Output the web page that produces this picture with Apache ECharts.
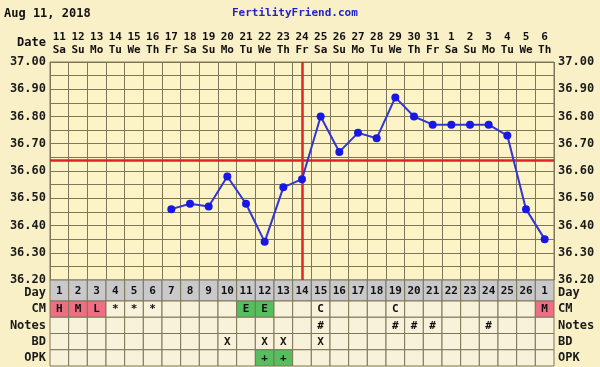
<!DOCTYPE html>
<html>
<head>
<meta charset="utf-8">
<script src="https://cdn.jsdelivr.net/npm/echarts@6/dist/echarts.min.js"></script>
<style>html,body{margin:0;padding:0;background:#FAF0C8;}#chart{width:600px;height:367px;}</style>
</head>
<body>
<div id="chart"></div>
<script>
const dates = ['11','12','13','14','15','16','17','18','19','20','21','22','23','24','25','26','27','28','29','30','31','1','2','3','4','5','6'];
const weekdays = ['Sa','Su','Mo','Tu','We','Th','Fr','Sa','Su','Mo','Tu','We','Th','Fr','Sa','Su','Mo','Tu','We','Th','Fr','Sa','Su','Mo','Tu','We','Th'];
const cycleDays = ['1','2','3','4','5','6','7','8','9','10','11','12','13','14','15','16','17','18','19','20','21','22','23','24','25','26','1'];
const temps = [null,null,null,null,null,null,36.46,36.48,36.47,36.58,36.48,36.34,36.54,36.57,36.80,36.67,36.74,36.72,36.87,36.80,36.77,36.77,36.77,36.77,36.73,36.46,36.35];
const coverline = 36.64;
const ovulationDayIndex = 13;
const rowNames = ['CM','Notes','BD','OPK'];
const cmRow    = ['H','M','L','*','*','*','','','','','E','E','','','C','','','','C','','','','','','','','M'];
const notesRow = ['','','','','','','','','','','','','','','#','','','','#','#','#','','','#','','',''];
const bdRow    = ['','','','','','','','','','X','','X','X','','X','','','','','','','','','','','',''];
const opkRow   = ['','','','','','','','','','','','+','+','','','','','','','','','','','','','',''];
const yMin = 36.2, yMax = 37.0, yStep = 0.1;

const FONT = '"DejaVu Sans Mono", "Liberation Mono", monospace';
const GRIDC = '#7E7658';
const cellFill = { 'H': '#EE6F84', 'M': '#EE6F84', 'L': '#EE6F84', 'E': '#55BE5E', '+': '#55BE5E' };

const obsRows = [cmRow, notesRow, bdRow, opkRow];
const obsData = [];
obsRows.forEach((row, r) => row.forEach((t, i) => obsData.push([i, r, t])));
const dayData = cycleDays.map((t, i) => [i, 0, t]);

function cellRenderer(defaultFill) {
  return function (params, api) {
    const c = api.coord([api.value(0), api.value(1)]);
    const s = api.size([1, 1]);
    const t = api.value(2);
    const fill = defaultFill || cellFill[t] || '#F9F2DA';
    return {
      type: 'group',
      children: [
        { type: 'rect', shape: { x: c[0] - s[0] / 2, y: c[1] - s[1] / 2, width: s[0], height: s[1] },
          style: { fill: fill, stroke: GRIDC, lineWidth: 1 } },
        { type: 'text', style: { text: t, x: c[0], y: c[1] + 0.5, align: 'center', verticalAlign: 'middle',
          font: 'bold 11px ' + FONT, fill: '#111' } }
      ]
    };
  };
}

const labelStyle = { fontFamily: FONT, fontWeight: 'bold', fontSize: 12, color: '#1a1a1a' };

const chart = echarts.init(document.getElementById('chart'), null, { renderer: 'canvas' });
chart.setOption({
  backgroundColor: '#FAF0C8',
  animation: false,
  graphic: [
    { type: 'text', left: 4, top: 8, style: { text: 'Aug 11, 2018', font: 'bold 12px ' + FONT, fill: '#111' } },
    { type: 'text', left: 232, top: 8, style: { text: 'FertilityFriend.com', font: 'bold 11px ' + FONT, fill: '#2222CC' } },
    { type: 'text', right: 554, top: 37, style: { text: 'Date', font: 'bold 12px ' + FONT, fill: '#111', align: 'right' } }
  ],
  grid: [
    { left: 50, right: 46, top: 62, height: 218, show: true, backgroundColor: '#FCF4C6', borderColor: GRIDC, borderWidth: 1 },
    { left: 50, right: 46, top: 280, height: 21 },
    { left: 50, right: 46, top: 301, height: 65 }
  ],
  xAxis: [
    { type: 'category', gridIndex: 0, data: dates, position: 'top', boundaryGap: true,
      axisLine: { show: false }, axisTick: { show: false },
      splitLine: { show: true, interval: 0, lineStyle: { color: GRIDC, width: 1 } },
      axisLabel: { interval: 0, margin: 5, lineHeight: 13, fontFamily: FONT, fontWeight: 'bold', fontSize: 11, color: '#111',
        formatter: (v, i) => dates[i] + '\n' + weekdays[i] } },
    { type: 'category', gridIndex: 1, data: cycleDays, show: false },
    { type: 'category', gridIndex: 2, data: cycleDays, show: false }
  ],
  yAxis: [
    { type: 'value', gridIndex: 0, min: yMin, max: yMax, interval: yStep, position: 'left',
      axisLine: { show: false }, axisTick: { show: false },
      splitLine: { show: true, lineStyle: { color: GRIDC, width: 1 } },
      minorTick: { show: false, splitNumber: 2 },
      minorSplitLine: { show: true, lineStyle: { color: GRIDC, width: 1 } },
      axisLabel: Object.assign({ margin: 4, formatter: v => v.toFixed(2) }, labelStyle) },
    { type: 'value', gridIndex: 0, min: yMin, max: yMax, interval: yStep, position: 'right',
      axisLine: { show: false }, axisTick: { show: false }, splitLine: { show: false },
      axisLabel: Object.assign({ margin: 4, formatter: v => v.toFixed(2) }, labelStyle) },
    { type: 'category', gridIndex: 1, data: ['Day'], position: 'left', axisLine: { show: false }, axisTick: { show: false },
      axisLabel: Object.assign({ margin: 4, verticalAlign: 'top', lineHeight: 5 }, labelStyle) },
    { type: 'category', gridIndex: 1, data: ['Day'], position: 'right', axisLine: { show: false }, axisTick: { show: false },
      axisLabel: Object.assign({ margin: 4, verticalAlign: 'top', lineHeight: 5 }, labelStyle) },
    { type: 'category', gridIndex: 2, data: rowNames, inverse: true, position: 'left', axisLine: { show: false }, axisTick: { show: false },
      axisLabel: Object.assign({ margin: 4 }, labelStyle) },
    { type: 'category', gridIndex: 2, data: rowNames, inverse: true, position: 'right', axisLine: { show: false }, axisTick: { show: false },
      axisLabel: Object.assign({ margin: 4 }, labelStyle) }
  ],
  series: [
    { type: 'custom', xAxisIndex: 1, yAxisIndex: 2, data: dayData, renderItem: cellRenderer('#C9C9CC'), silent: true },
    { type: 'custom', xAxisIndex: 2, yAxisIndex: 4, data: obsData, renderItem: cellRenderer(null), silent: true },
    { type: 'line', xAxisIndex: 0, yAxisIndex: 0, data: temps, connectNulls: false,
      symbol: 'circle', symbolSize: 8, itemStyle: { color: '#1717E6' },
      lineStyle: { color: '#3434D4', width: 2 }, silent: true,
      markLine: { silent: true, symbol: 'none', label: { show: false },
        lineStyle: { color: '#E02424', width: 2.5, type: 'solid' },
        data: [ { yAxis: coverline }, { xAxis: ovulationDayIndex } ] }, z: 5 }
  ]
});
</script>
</body>
</html>
